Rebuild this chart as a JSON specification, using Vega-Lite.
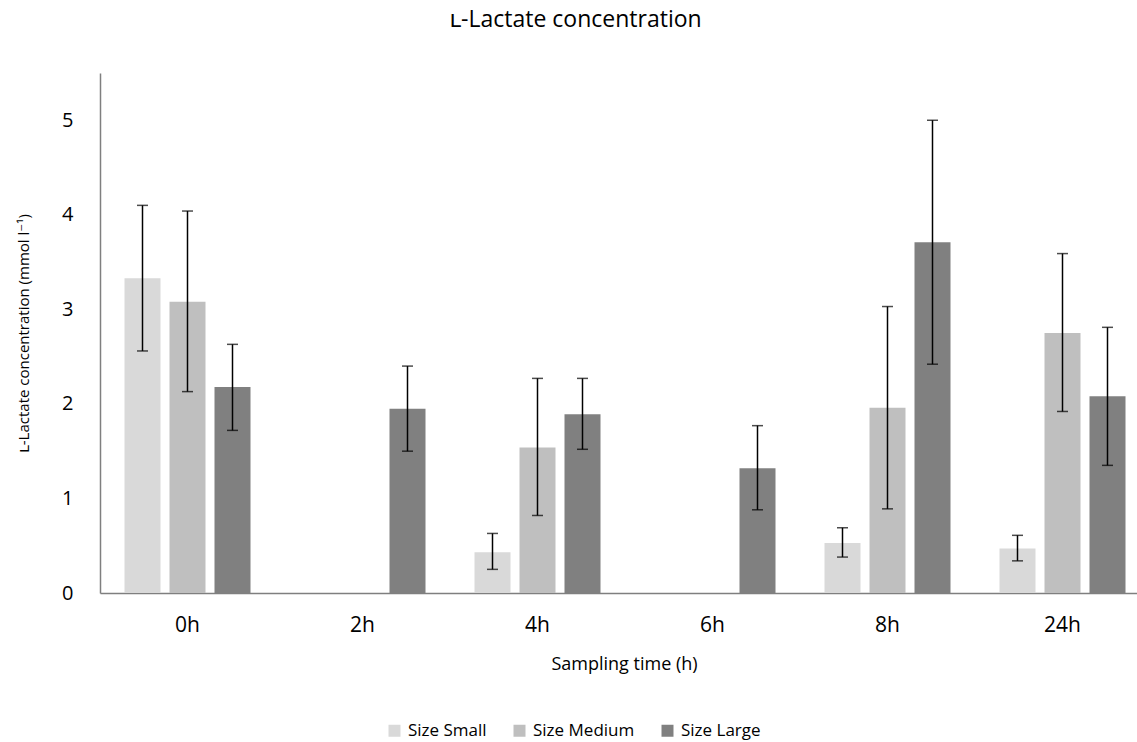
{
  "$schema": "https://vega.github.io/schema/vega-lite/v6.json",
  "autosize": {"type": "none"},
  "padding": {"left": 100, "top": 73, "right": 0, "bottom": 149},
  "width": 1037,
  "height": 520,
  "background": "white",
  "config": {"font": "Open Sans, DejaVu Sans", "view": {"stroke": null}},
  "title": {"text": "ʟ-Lactate concentration", "fontSize": 23, "fontWeight": "normal", "color": "#000000", "offset": 41, "dx": -43, "font": "Open Sans, DejaVu Sans"},
  "data": {"values": [
    {"time": "0h", "size": "Size Small", "value": 3.33, "lo": 2.56, "hi": 4.10},
    {"time": "0h", "size": "Size Medium", "value": 3.08, "lo": 2.13, "hi": 4.04},
    {"time": "0h", "size": "Size Large", "value": 2.18, "lo": 1.72, "hi": 2.63},
    {"time": "2h", "size": "Size Large", "value": 1.95, "lo": 1.50, "hi": 2.40},
    {"time": "4h", "size": "Size Small", "value": 0.43, "lo": 0.25, "hi": 0.63},
    {"time": "4h", "size": "Size Medium", "value": 1.54, "lo": 0.82, "hi": 2.27},
    {"time": "4h", "size": "Size Large", "value": 1.89, "lo": 1.52, "hi": 2.27},
    {"time": "6h", "size": "Size Large", "value": 1.32, "lo": 0.88, "hi": 1.77},
    {"time": "8h", "size": "Size Small", "value": 0.53, "lo": 0.38, "hi": 0.69},
    {"time": "8h", "size": "Size Medium", "value": 1.96, "lo": 0.89, "hi": 3.03},
    {"time": "8h", "size": "Size Large", "value": 3.71, "lo": 2.42, "hi": 5.00},
    {"time": "24h", "size": "Size Small", "value": 0.47, "lo": 0.34, "hi": 0.61},
    {"time": "24h", "size": "Size Medium", "value": 2.75, "lo": 1.92, "hi": 3.59},
    {"time": "24h", "size": "Size Large", "value": 2.08, "lo": 1.35, "hi": 2.81}
  ]},
  "encoding": {
    "x": {"field": "time", "type": "nominal", "sort": ["0h", "2h", "4h", "6h", "8h", "24h"],
      "scale": {"range": [0, 1050], "paddingInner": 0.28, "paddingOuter": 0.14},
      "axis": {"title": "Sampling time (h)", "labelAngle": 0, "labelFontSize": 21, "labelColor": "#000000", "labelPadding": 21,
        "ticks": false, "domainColor": "#7f7f7f", "domainWidth": 1.5, "titleFontSize": 18, "titleFontWeight": "normal", "titleColor": "#000000",
        "titleX": 524, "titleY": 76, "titleBaseline": "alphabetic"}},
    "xOffset": {"field": "size", "type": "nominal", "sort": ["Size Small", "Size Medium", "Size Large"],
      "scale": {"domain": ["Size Small", "Size Medium", "Size Large"], "paddingInner": 0.2, "paddingOuter": 0}}
  },
  "layer": [
    {
      "mark": {"type": "bar"},
      "encoding": {
        "y": {"field": "value", "type": "quantitative", "scale": {"domain": [0, 5.5], "nice": false},
          "axis": {"title": "ʟ-Lactate concentration (mmol l⁻¹)", "values": [0, 1, 2, 3, 4, 5], "format": "d", "grid": false, "ticks": false,
            "labelFontSize": 20, "labelColor": "#000000", "labelPadding": 27, "domainColor": "#7f7f7f", "domainWidth": 1.5,
            "titleFontSize": 15, "titleFontWeight": "normal", "titleColor": "#000000", "titleX": -72, "titleY": 260, "titleBaseline": "alphabetic", "titleAlign": "center", "titleAngle": -90}},
        "color": {"field": "size", "type": "nominal",
          "scale": {"domain": ["Size Small", "Size Medium", "Size Large"], "range": ["#d9d9d9", "#bfbfbf", "#808080"]},
          "legend": {"title": null, "orient": "none", "direction": "horizontal", "legendX": 286, "legendY": 649,
            "symbolType": "square", "symbolSize": 144, "symbolStrokeWidth": 0, "labelFontSize": 17, "labelColor": "#000000",
            "columnPadding": 24, "labelOffset": 5}}
      }
    },
    {
      "mark": {"type": "rule", "color": "#000000", "strokeWidth": 1.5},
      "encoding": {
        "y": {"field": "lo", "type": "quantitative"},
        "y2": {"field": "hi"}
      }
    },
    {
      "mark": {"type": "tick", "color": "#000000", "thickness": 1.5, "size": 11},
      "encoding": {"y": {"field": "lo", "type": "quantitative"}}
    },
    {
      "mark": {"type": "tick", "color": "#000000", "thickness": 1.5, "size": 11},
      "encoding": {"y": {"field": "hi", "type": "quantitative"}}
    }
  ]
}
